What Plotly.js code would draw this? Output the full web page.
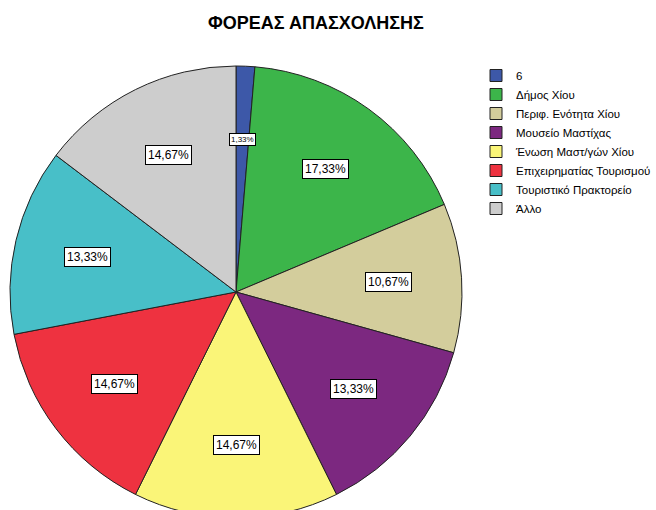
<!DOCTYPE html>
<html><head><meta charset="utf-8">
<script src="https://cdn.plot.ly/plotly-3.0.1.min.js"></script>
<style>html,body{margin:0;padding:0;overflow:hidden;background:#fff}#chart{width:656px;height:528px}</style>
</head><body><div id="chart"></div>
<script>
const categories = ["6", "Δήμος Χίου", "Περιφ. Ενότητα Χίου", "Μουσείο Μαστίχας", "Ένωση Μαστ/γών Χίου", "Επιχειρηματίας Τουρισμού", "Τουριστικό Πρακτορείο", "Άλλο"];
const counts = [1, 13, 8, 10, 11, 11, 10, 11];
const colors = ["#3D58A8", "#3CB54A", "#D3CD9C", "#7C2880", "#FAF578", "#EE3240", "#48BFC8", "#CDCDCD"];

const W = 656, H = 528;
const cxPx = 236, cyPx = 292, rPx = 226;
const total = counts.reduce((a, b) => a + b, 0);

const trace = {
  type: "pie",
  labels: categories,
  values: counts,
  sort: false,
  direction: "clockwise",
  rotation: 0,
  textinfo: "none",
  hoverinfo: "label+percent",
  marker: { colors: colors, line: { color: "#222", width: 1 } },
  domain: { x: [(cxPx - rPx) / W, (cxPx + rPx) / W], y: [(H - cyPx - rPx) / H, (H - cyPx + rPx) / H] }
};

const annotations = [];
let cum = 0;
counts.forEach((v, i) => {
  const mid = (cum + v / 2) / total * 2 * Math.PI;
  cum += v;
  const pct = (v / total * 100).toFixed(2).replace(".", ",") + "%";
  const small = v / total < 0.05;
  const f = 0.675;
  annotations.push({
    xref: "paper", yref: "paper", xanchor: "center", yanchor: "middle",
    x: cxPx / W + f * rPx / W * Math.sin(mid),
    y: (H - cyPx) / H + f * rPx / H * Math.cos(mid),
    text: pct, showarrow: false,
    font: { family: "Liberation Sans, Arial, sans-serif", size: small ? 8 : 12, color: "#000" },
    bgcolor: "#fff", bordercolor: "#000", borderwidth: 1, borderpad: small ? 1 : 2
  });
});

const layout = {
  width: W, height: H,
  margin: { l: 0, r: 0, t: 0, b: 0, autoexpand: false },
  paper_bgcolor: "#fff",
  font: { family: "Liberation Sans, Arial, sans-serif", color: "#000" },
  title: { text: "<b>ΦΟΡΕΑΣ ΑΠΑΣΧΟΛΗΣΗΣ</b>", x: 316 / W, xanchor: "center", y: 1 - 23 / H, yanchor: "middle", yref: "container",
           font: { family: "Liberation Sans, Arial, sans-serif", size: 18, color: "#000" } },
  showlegend: true,
  legend: { x: 476 / W, y: 1 - 61 / H, xanchor: "left", yanchor: "top", font: { size: 11.5, color: "#000" },
            bgcolor: "rgba(0,0,0,0)", itemwidth: 30, traceorder: "normal" },
  annotations: annotations
};

Plotly.newPlot("chart", [trace], layout, { displayModeBar: false, staticPlot: true });
</script></body></html>
